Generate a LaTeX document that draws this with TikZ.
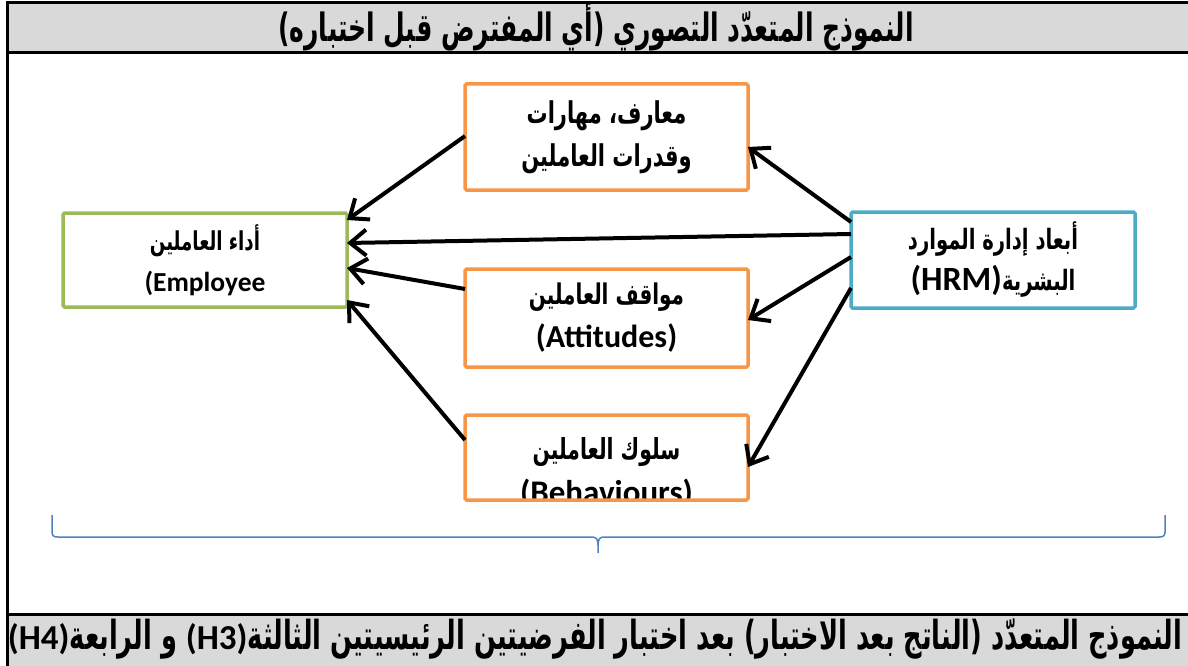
\documentclass[tikz,border=0pt]{standalone}
\usepackage{fontspec}
\setmainfont{Carlito}
\newfontfamily\arabicbox[Script=Arabic, FakeStretch=0.7]{DejaVu Sans}
\newfontfamily\arabicband[Script=Arabic, FakeStretch=0.64]{DejaVu Sans}
\usetikzlibrary{arrows.meta}
\TeXXeTstate=1
\definecolor{boxorange}{HTML}{F79646}
\definecolor{boxgreen}{HTML}{9BBB59}
\definecolor{boxblue}{HTML}{4BACC6}
\definecolor{bandgray}{HTML}{D9D9D9}
\definecolor{bracecol}{HTML}{4F81BD}
\newcommand{\arb}[1]{\arabicbox\bfseries\fontsize{#1}{43}\selectfont}
\newcommand{\latinband}{\rmfamily\bfseries\fontsize{35}{38}\selectfont}
\begin{document}
\begin{tikzpicture}[x=1pt,y=-1pt,
  framel/.style={line width=3pt, black},
  basebox/.style={draw, line width=3.5pt, rounded corners=1.5pt, fill=white,
    inner sep=0pt, outer sep=0pt, align=center},
  obox/.style={basebox, draw=boxorange, minimum width=283pt},
  gbox/.style={basebox, draw=boxgreen, minimum width=284pt},
  bbox/.style={basebox, draw=boxblue, minimum width=284pt},
  arr/.style={line width=4pt, black, -{Straight Barb[length=16pt,width=26pt]}},
  bandtext/.style={font=\arabicband\bfseries\fontsize{39}{42}\selectfont, inner sep=0pt}
]
\useasboundingbox (0,0) rectangle (1188,666);
% bands
\fill[bandgray] (7,3) rectangle (1188,53);
\fill[bandgray] (7,614) rectangle (1188,666);
\draw[framel] (7,3) -- (1188,3);
\draw[framel] (7,53) -- (1188,53);
\draw[framel] (7,614) -- (1188,614);
\draw[framel] (7,1.5) -- (7,666);
\node[bandtext] (title) at (596,27)
  {\beginR النموذج المتعدّد التصوري \hbox{(}أي المفترض قبل اختباره\hbox{)}\endR};
\node[bandtext, font=\arabicband\bfseries\fontsize{40}{42}\selectfont] (result) at (595,639)
  {\beginR النموذج المتعدّد \hbox{(}الناتج بعد الاختبار\hbox{)} بعد اختبار الفرضيتين الرئيسيتين الثالثة\hbox{\latinband(H3)} و الرابعة\hbox{\latinband(H4)}\endR};
% boxes
\node[obox, minimum height=106pt, font=\bfseries\fontsize{27}{43}\selectfont] (know) at (606.5,137)
  {{\arb{30}\beginR معارف، مهارات\endR}\\ {\arb{30}\beginR وقدرات العاملين\endR}};
\node[gbox, minimum height=94pt, font=\bfseries\fontsize{27.5}{41}\selectfont] (emp) at (205,260)
  {{\arb{26}\beginR أداء العاملين\endR}\\ (Employee};
\node[bbox, minimum height=96pt, font=\bfseries\fontsize{34}{41}\selectfont] (hrm) at (993,260)
  {{\arb{28}\beginR أبعاد إدارة الموارد\endR}\\ (HRM){\arb{28}\beginR البشرية\endR}};
\node[obox, minimum height=98pt, font=\bfseries\fontsize{32}{43}\selectfont] (att) at (606.5,318)
  {{\arb{28.5}\beginR مواقف العاملين\endR}\\ (Attitudes)};
\node[obox, minimum height=85pt,
  path picture={\node[anchor=north, align=center, inner sep=0pt,
      font=\bfseries\fontsize{33}{44}\selectfont]
      at ([yshift=-15pt]path picture bounding box.north)
      {{\arb{29}\beginR سلوك العاملين\endR}\\ (Behaviours)};}] (beh) at (606.5,457.5) {};
% arrows
\draw[arr] ([yshift=-10pt]hrm.north west) -- ([yshift=-63pt]know.north east);
\draw[arr] ([yshift=-22pt]hrm.north west) -- ([yshift=-30pt]emp.north east);
\draw[arr] ([yshift=-45pt]hrm.north west) -- ([yshift=-51pt]att.north east);
\draw[arr] ([yshift=-76pt]hrm.north west) -- ([yshift=-52pt]beh.north east);
\draw[arr] ([yshift=-52pt]know.north west) -- ([yshift=-7pt]emp.north east);
\draw[arr] ([yshift=-20pt]att.north west) -- ([yshift=-55pt]emp.north east);
\draw[arr] ([yshift=-25pt]beh.north west) -- ([yshift=-87pt]emp.north east);
% brace
\draw[bracecol, line width=1.5pt]
  (52,515) -- (52,532) .. controls (52,536) and (54,537) .. (58,537)
  -- (592,537) .. controls (596,537) and (598,539) .. (598,545) -- (598,553);
\draw[bracecol, line width=1.5pt]
  (1165,515) -- (1165,532) .. controls (1165,536) and (1163,537) .. (1159,537)
  -- (604,537) .. controls (600,537) and (598,539) .. (598,545);
\end{tikzpicture}
\end{document}
